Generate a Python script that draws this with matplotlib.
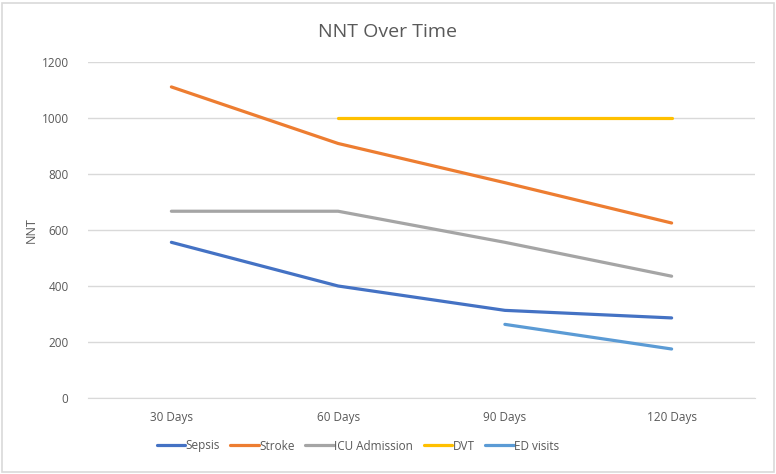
"""NNT over time, Excel-style line chart."""

import matplotlib
matplotlib.use("Agg")
import matplotlib.pyplot as plt
import numpy as np

# ─── Data ──────────────────────────────────────────────
periods = ["30 Days", "60 Days", "90 Days", "120 Days"]
sepsis = [556, 400, 313, 286]
stroke = [1111, 909, 769, 625]
icu_admission = [667, 667, 556, 435]
dvt = [np.nan, 1000, 1000, 1000]
ed_visits = [np.nan, np.nan, 263, 175]

series_names = ["Sepsis", "Stroke", "ICU Admission", "DVT", "ED visits"]
series_colors = ["#4472C4", "#ED7D31", "#A5A5A5", "#FFC000", "#5B9BD5"]

TEXT_GREY = "#595959"
GRID_GREY = "#D9D9D9"

plt.rcParams.update({
    "font.family": ["Open Sans", "DejaVu Sans"],
    "font.size": 8.5,
})

fig = plt.figure(figsize=(7.76, 4.74), dpi=100)
ax = fig.add_axes([88 / 776, 1 - 398 / 474, (755 - 88) / 776, (398 - 62) / 474])

x = np.arange(len(periods))
for name, values, color in zip(series_names,
                               [sepsis, stroke, icu_admission, dvt, ed_visits],
                               series_colors):
    ax.plot(x, values, color=color, linewidth=2.3, label=name,
            solid_capstyle="round", solid_joinstyle="round")

ax.set_xlim(-0.5, len(periods) - 0.5)
ax.set_ylim(0, 1200)
ax.set_yticks(range(0, 1201, 200))
ax.set_xticks(x)
ax.set_xticklabels(periods)
ax.yaxis.grid(True, color=GRID_GREY, linewidth=1)
ax.set_axisbelow(True)
for side in ["top", "right", "left"]:
    ax.spines[side].set_visible(False)
ax.spines["bottom"].set_color(GRID_GREY)
ax.tick_params(length=0, colors=TEXT_GREY, labelsize=8.5)
ax.tick_params(axis="y", pad=14)
ax.tick_params(axis="x", pad=9)

ax.set_ylabel("NNT", color=TEXT_GREY, fontsize=9, labelpad=3)
fig.text(0.5, 1 - 32 / 474, "NNT Over Time", ha="center", va="center",
         fontsize=14, color=TEXT_GREY)

fig.legend(loc="center", bbox_to_anchor=(358 / 776, 1 - 446 / 474), ncol=5,
           frameon=False, handlelength=2.4, handletextpad=0.05,
           columnspacing=0.9, labelcolor=TEXT_GREY, fontsize=8.5)

# light border round the chart
fig.patches.append(plt.Rectangle((0.003, 0.004), 0.994, 0.99, transform=fig.transFigure,
                                 fill=False, edgecolor=GRID_GREY, linewidth=1.2))

fig.savefig("out.png", dpi=100, facecolor="white")
